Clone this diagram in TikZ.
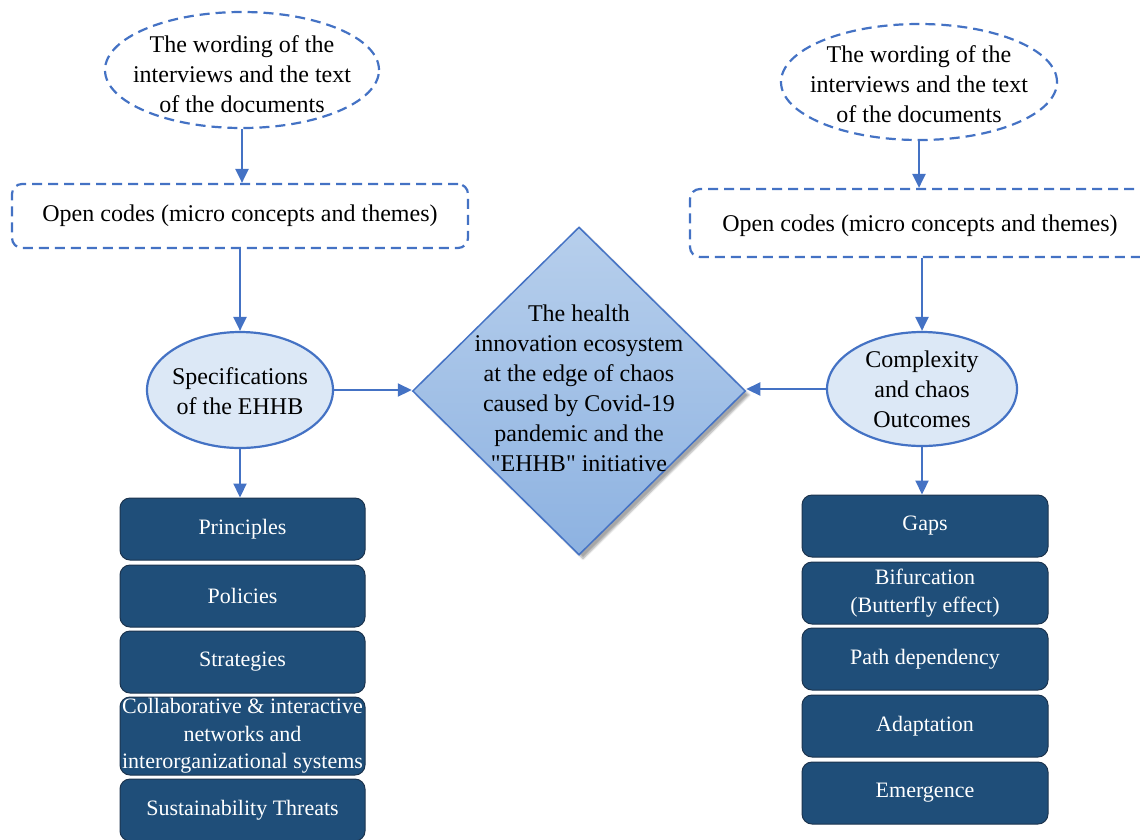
\documentclass[tikz,border=0pt]{standalone}
\usepackage{fontspec}
\setmainfont{Liberation Serif}[Ligatures=TeXOff]
\usetikzlibrary{shapes.geometric,arrows.meta,shadows.blur}

\definecolor{lineblue}{RGB}{68,114,196}
\definecolor{ellfill}{RGB}{220,232,246}
\definecolor{navy}{RGB}{31,78,121}
\definecolor{navyedge}{RGB}{28,52,78}
\definecolor{diatop}{RGB}{183,207,236}
\definecolor{diabot}{RGB}{141,178,225}

\tikzset{
  x=1pt, y=-1pt,
  bigtxt/.style={font=\fontsize{24}{30}\selectfont, align=center, text=black, inner sep=0pt},
  dashell/.style={ellipse, draw=lineblue, line width=2.2pt, dash pattern=on 10pt off 6pt, fill=white},
  dashbox/.style={rectangle, rounded corners=10pt, draw=lineblue, line width=2.2pt, dash pattern=on 10pt off 6pt, fill=white},
  solidell/.style={ellipse, draw=lineblue, line width=2.2pt, fill=ellfill, inner sep=0pt},
  itembox/.style={rectangle, rounded corners=10pt, draw=navyedge, line width=1pt, fill=navy,
    text=white, align=center, font=\fontsize{22}{27.5}\selectfont, inner sep=0pt},
  conn/.style={draw=lineblue, line width=2.2pt, -{Triangle[length=14pt,width=13pt]}},
}

\begin{document}
\begin{tikzpicture}
\useasboundingbox (0,0) rectangle (1140,839);
\clip (0,0) rectangle (1140,839);

% source ellipses and open-code boxes
\node[dashell, minimum width=274pt, minimum height=116pt] (w1) at (242,70) {};
\node[bigtxt] (w1t) at (242,74) {The wording of the\\interviews and the text\\of the documents};
\node[dashbox, minimum width=456pt, minimum height=64pt] (oc1) at (240,216) {};
\node[bigtxt] (oc1t) at (240,216) {Open codes (micro concepts and themes)};

\node[dashell, minimum width=276pt, minimum height=116pt] (w2) at (919,82) {};
\node[bigtxt] (w2t) at (919,84) {The wording of the\\interviews and the text\\of the documents};
\node[dashbox, minimum width=470pt, minimum height=68pt] (oc2) at (925,223) {};
\node[bigtxt] (oc2t) at (920,226) {Open codes (micro concepts and themes)};

% category ellipses
\node[solidell, minimum width=186pt, minimum height=116pt] (spec) at (240,390) {};
\node[bigtxt] (spect) at (240,391) {Specifications\\of the EHHB};
\node[solidell, minimum width=190pt, minimum height=114pt] (cx) at (922,389) {};
\node[bigtxt] (cxt) at (922,389) {Complexity\\and chaos\\Outcomes};

% central diamond
\node[diamond, draw=lineblue, line width=1.5pt, top color=diatop, bottom color=diabot,
  minimum width=333pt, minimum height=328pt, inner sep=0pt,
  blur shadow={shadow xshift=4pt, shadow yshift=-4pt, shadow blur steps=6, shadow opacity=35}] (dia) at (579,391) {};
\node[bigtxt] (diat) at (579,388) {The health\\innovation ecosystem\\at the edge of chaos\\caused by Covid-19\\pandemic and the\\"EHHB" initiative};

% left list
\node[itembox, minimum width=245pt, minimum height=62pt] (l1) at (242.5,529) {Principles};
\node[itembox, minimum width=245pt, minimum height=62pt] (l2) at (242.5,596) {Policies};
\node[itembox, minimum width=245pt, minimum height=62pt] (l3) at (242.5,662) {Strategies};
\node[itembox, minimum width=245pt, minimum height=78pt] (l4) at (242.5,736) {Collaborative \& interactive\\networks and\\interorganizational systems};
\node[itembox, minimum width=245pt, minimum height=62pt] (l5) at (242.5,810) {Sustainability Threats};

% right list
\node[itembox, minimum width=246pt, minimum height=62pt] (r1) at (925,526) {Gaps};
\node[itembox, minimum width=246pt, minimum height=62pt] (r2) at (925,593) {Bifurcation\\(Butterfly effect)};
\node[itembox, minimum width=246pt, minimum height=62pt] (r3) at (925,659) {\raisebox{5pt}{Path dependency}};
\node[itembox, minimum width=246pt, minimum height=62pt] (r4) at (925,726) {Adaptation};
\node[itembox, minimum width=246pt, minimum height=62pt] (r5) at (925,793) {Emergence};

% connectors
\draw[conn] (w1.south) -- (w1.south |- oc1.north);
\draw[conn] (spec.north |- oc1.south) -- (spec.north);
\draw[conn] (spec.east) -- (spec.east -| dia.west);
\draw[conn] (spec.south) -- (spec.south |- l1.north);

\draw[conn] (w2.south) -- (w2.south |- oc2.north);
\draw[conn] (cx.north |- oc2.south) -- (cx.north);
\draw[conn] (cx.west) -- (cx.west -| dia.east);
\draw[conn] (cx.south) -- (cx.south |- r1.north);
\end{tikzpicture}
\end{document}
